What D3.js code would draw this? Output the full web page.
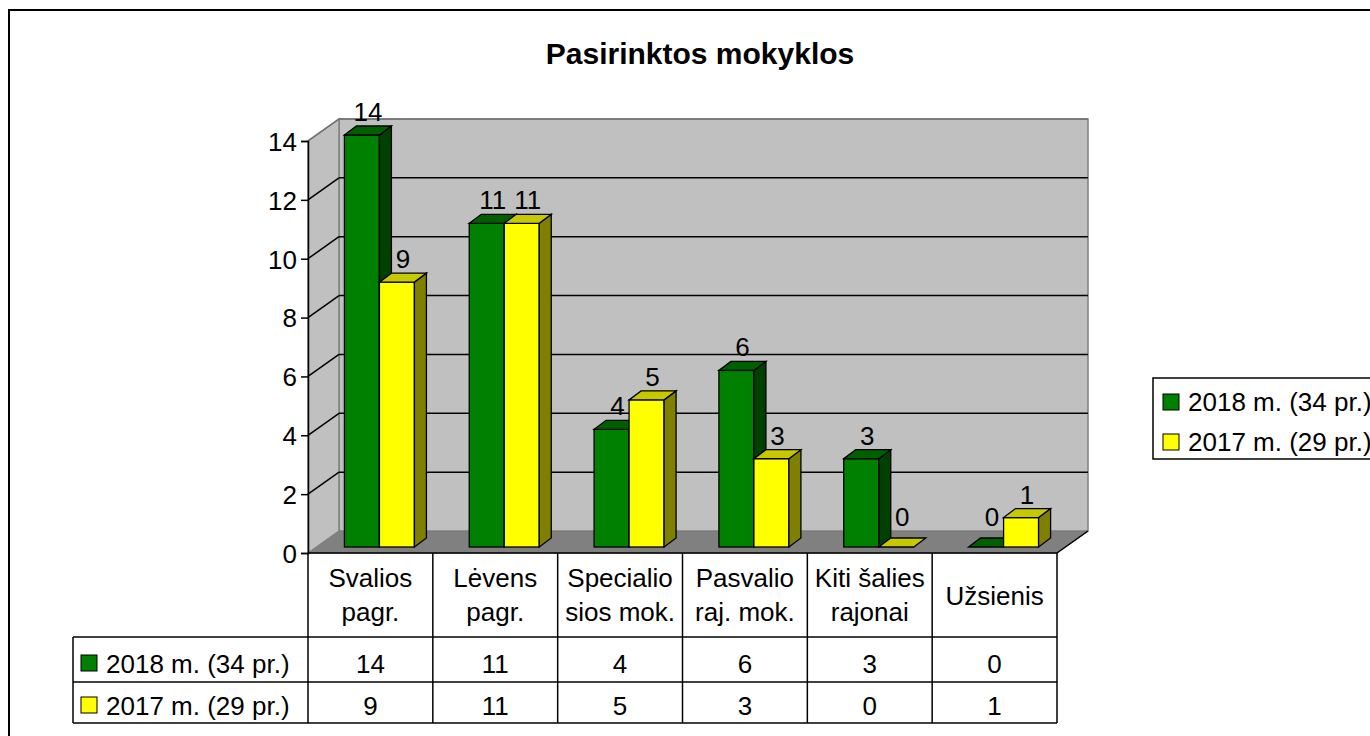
<!DOCTYPE html>
<html>
<head>
<meta charset="utf-8">
<script src="https://cdn.jsdelivr.net/npm/d3@7"></script>
<style>
  html, body { margin: 0; padding: 0; background: #fff; }
  svg { display: block; font-family: "Liberation Sans", Arial, sans-serif; }
</style>
</head>
<body>
<svg id="chart" width="1370" height="736"></svg>
<script>
// ---- data ----
const title = "Pasirinktos mokyklos";
const categories = ["Svalios pagr.", "Lėvens pagr.", "Specialio sios mok.", "Pasvalio raj. mok.", "Kiti šalies rajonai", "Užsienis"];
const categoryLines = [["Svalios", "pagr."], ["Lėvens", "pagr."], ["Specialio", "sios mok."], ["Pasvalio", "raj. mok."], ["Kiti šalies", "rajonai"], ["Užsienis"]];
const seriesNames = ["2018 m. (34 pr.)", "2017 m. (29 pr.)"];
const values2018 = [14, 11, 4, 6, 3, 0];
const values2017 = [9, 11, 5, 3, 0, 1];
const yTicks = [0, 2, 4, 6, 8, 10, 12, 14];

const seriesValues = [values2018, values2017];
const palette = [
  { front: "#008000", top: "#006000", side: "#004000" },
  { front: "#ffff00", top: "#c8c800", side: "#808000" }
];

const svg = d3.select("#chart");
const FS = 26;

// outer border
svg.append("rect").attr("x", 9).attr("y", 10).attr("width", 1400).attr("height", 800)
  .attr("fill", "#fff").attr("stroke", "#000").attr("stroke-width", 2);

// title
svg.append("text").attr("x", 700).attr("y", 64).attr("text-anchor", "middle")
  .attr("font-size", 30).attr("font-weight", "bold").text(title);

// scales
const x = d3.scaleBand().domain(categories).range([308, 1057]);
const y = d3.scaleLinear().domain([0, 14]).range([553, 141]);
const wallDX = 31, wallDY = -22;
const planeDX = 9, planeDY = -6;
const barDX = 12, barDY = -9;
const barW = 35;

const x0 = x.range()[0], x1 = x.range()[1];
const pts = a => a.map(p => p.join(",")).join(" ");

// floor
svg.append("polygon")
  .attr("points", pts([[x0, y(0)], [x1, y(0)], [x1 + wallDX, y(0) + wallDY], [x0 + wallDX, y(0) + wallDY]]))
  .attr("fill", "#808080").attr("stroke", "#606060").attr("stroke-width", 1);
// back wall
svg.append("polygon")
  .attr("points", pts([[x0 + wallDX, y(0) + wallDY], [x1 + wallDX, y(0) + wallDY], [x1 + wallDX, y(14) + wallDY], [x0 + wallDX, y(14) + wallDY]]))
  .attr("fill", "#c0c0c0").attr("stroke", "#808080").attr("stroke-width", 1.5);
// side wall
svg.append("polygon")
  .attr("points", pts([[x0, y(0)], [x0 + wallDX, y(0) + wallDY], [x0 + wallDX, y(14) + wallDY], [x0, y(14)]]))
  .attr("fill", "#c0c0c0").attr("stroke", "#808080").attr("stroke-width", 1.5);

// gridlines
yTicks.filter(t => t > 0).forEach(t => {
  svg.append("line").attr("x1", x0 + wallDX).attr("x2", x1 + wallDX)
    .attr("y1", y(t) + wallDY).attr("y2", y(t) + wallDY)
    .attr("stroke", t === 14 ? "#707070" : "#000").attr("stroke-width", 1.5);
  svg.append("line").attr("x1", x0).attr("x2", x0 + wallDX)
    .attr("y1", y(t)).attr("y2", y(t) + wallDY)
    .attr("stroke", t === 14 ? "#707070" : "#000").attr("stroke-width", 1.5);
});
// floor front right edge
svg.append("line").attr("x1", x1).attr("y1", y(0)).attr("x2", x1 + wallDX).attr("y2", y(0) + wallDY)
  .attr("stroke", "#000").attr("stroke-width", 1.5);

// y axis
const yAxis = d3.axisLeft(y).tickValues(yTicks).tickSize(7).tickPadding(4);
const gy = svg.append("g").attr("transform", `translate(${x0},0)`).call(yAxis);
gy.select(".domain").attr("stroke", "#000").attr("stroke-width", 1.5);
gy.selectAll(".tick line").attr("stroke", "#000").attr("stroke-width", 1.5);
gy.selectAll(".tick text").attr("font-size", FS).attr("font-family", "Liberation Sans, Arial, sans-serif")
  .attr("fill", "#000").attr("dy", "0.36em");

// bars
categories.forEach((c, ci) => {
  const cx = x(c) + x.bandwidth() / 2 + planeDX;
  seriesValues.forEach((vals, si) => {
    const v = vals[ci];
    const col = palette[si];
    const bx = cx - barW + si * barW;
    const yb = y(0) + planeDY;
    const yt = y(v) + planeDY;
    const g = svg.append("g");
    if (v > 0) {
      g.append("rect").attr("x", bx).attr("y", yt).attr("width", barW).attr("height", yb - yt)
        .attr("fill", col.front).attr("stroke", "#000").attr("stroke-width", 1.3);
      g.append("polygon")
        .attr("points", pts([[bx + barW, yt], [bx + barW + barDX, yt + barDY], [bx + barW + barDX, yb + barDY], [bx + barW, yb]]))
        .attr("fill", col.side).attr("stroke", "#000").attr("stroke-width", 1.3);
    }
    g.append("polygon")
      .attr("points", pts([[bx, yt], [bx + barW, yt], [bx + barW + barDX, yt + barDY], [bx + barDX, yt + barDY]]))
      .attr("fill", col.top).attr("stroke", "#000").attr("stroke-width", 1.3);
  });
});
// value labels (drawn after bars)
categories.forEach((c, ci) => {
  const cx = x(c) + x.bandwidth() / 2 + planeDX;
  seriesValues.forEach((vals, si) => {
    const v = vals[ci];
    const bx = cx - barW + si * barW;
    const yt = y(v) + planeDY + barDY;
    svg.append("text").attr("x", bx + barW / 2 + barDX / 2).attr("y", yt - (v === 0 ? 12 : 5))
      .attr("text-anchor", "middle").attr("font-size", FS).text(v);
  });
});

// data table
const tableLeft = 73;
const tg = svg.append("g").attr("stroke", "#000").attr("stroke-width", 1.5);
tg.append("line").attr("x1", x0).attr("x2", x1).attr("y1", y(0)).attr("y2", y(0));
[637, 682, 723].forEach(yy => tg.append("line").attr("x1", tableLeft).attr("x2", x1).attr("y1", yy).attr("y2", yy));
tg.append("line").attr("x1", tableLeft).attr("x2", tableLeft).attr("y1", 637).attr("y2", 723);
categories.forEach(c => tg.append("line").attr("x1", x(c)).attr("x2", x(c)).attr("y1", y(0)).attr("y2", 723));
tg.append("line").attr("x1", x1).attr("x2", x1).attr("y1", y(0)).attr("y2", 723);

categories.forEach((c, ci) => {
  const cx = x(c) + x.bandwidth() / 2;
  const lines = categoryLines[ci];
  const base = lines.length === 1 ? [605] : [587, 621];
  lines.forEach((ln, li) => {
    svg.append("text").attr("x", cx).attr("y", base[li]).attr("text-anchor", "middle")
      .attr("font-size", FS).text(ln);
  });
  seriesValues.forEach((vals, si) => {
    svg.append("text").attr("x", cx).attr("y", si === 0 ? 673 : 715).attr("text-anchor", "middle")
      .attr("font-size", FS).text(vals[ci]);
  });
});
seriesNames.forEach((n, si) => {
  const by = si === 0 ? 673 : 715;
  svg.append("rect").attr("x", 81).attr("y", by - 18).attr("width", 16).attr("height", 16)
    .attr("fill", palette[si].front).attr("stroke", "#000").attr("stroke-width", 1);
  svg.append("text").attr("x", 106).attr("y", by).attr("font-size", FS).text(n);
});

// legend
svg.append("rect").attr("x", 1153).attr("y", 378).attr("width", 260).attr("height", 81)
  .attr("fill", "#fff").attr("stroke", "#000").attr("stroke-width", 1.5);
seriesNames.forEach((n, si) => {
  const cy = si === 0 ? 402 : 442;
  svg.append("rect").attr("x", 1163).attr("y", cy - 8).attr("width", 16).attr("height", 16)
    .attr("fill", palette[si].front).attr("stroke", "#000").attr("stroke-width", 1);
  svg.append("text").attr("x", 1188).attr("y", cy + 9).attr("font-size", FS).text(n);
});
</script>
</body>
</html>
